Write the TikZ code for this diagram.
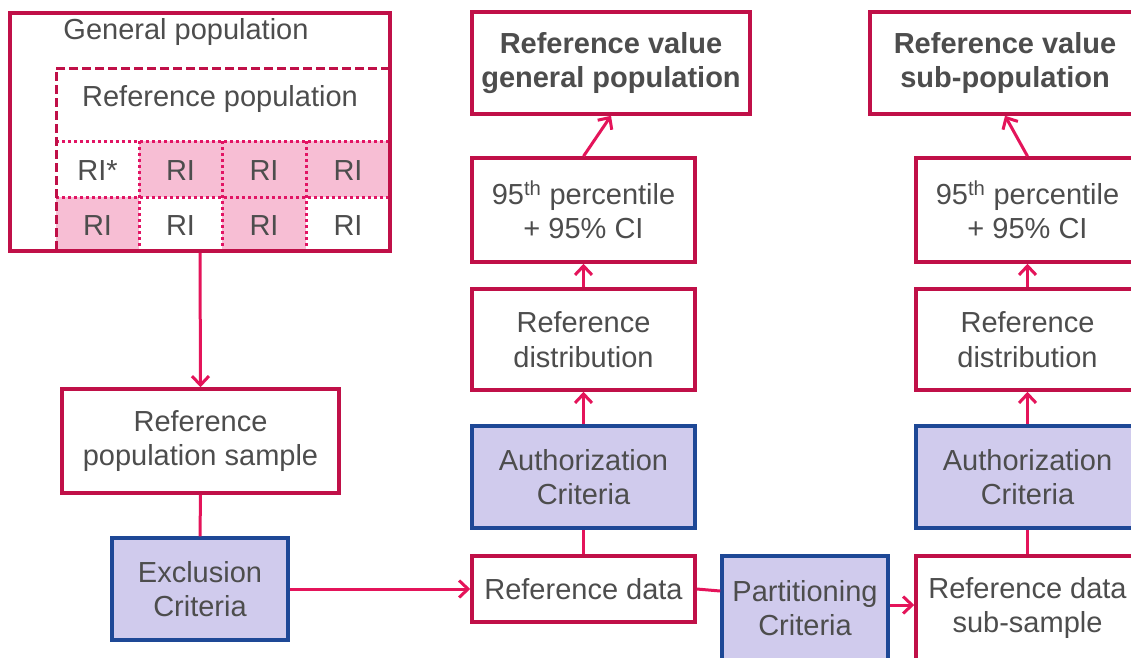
\documentclass[tikz,border=0pt]{standalone}
\usepackage{fontspec}
\setmainfont{Liberation Sans}
\usetikzlibrary{arrows.meta,calc}
\definecolor{boxred}{RGB}{192,16,72}
\definecolor{arrowc}{RGB}{228,20,90}
\definecolor{lav}{RGB}{208,203,237}
\definecolor{bluebd}{RGB}{30,72,150}
\definecolor{pinkfill}{RGB}{247,190,212}
\definecolor{dotc}{RGB}{226,20,100}
\definecolor{txt}{RGB}{77,77,77}
\tikzset{
  lbl/.style={text=txt,font=\fontsize{29}{34.5}\selectfont,align=center,inner sep=0pt},
  redbox/.style={draw=boxred,line width=3.5pt,fill=white,lbl},
  critbox/.style={draw=bluebd,line width=3.5pt,fill=lav,lbl},
  conn/.style={draw=arrowc,line width=3pt},
  arr/.style={conn,-{Straight Barb[length=9pt,width=17pt,line width=3pt]}},
  dotline/.style={draw=dotc,line width=3pt,dash pattern=on 3pt off 3pt},
  dashline/.style={draw=boxred,line width=3pt,dash pattern=on 9pt off 4pt}
}
\begin{document}
\begin{tikzpicture}[x=1pt,y=-1pt]
\clip (0,0) rectangle (1131,657);
\fill[white] (0,0) rectangle (1131,657);
% pink cells
\fill[pinkfill] (139,141) rectangle (390,197);
\fill[pinkfill] (56,197) rectangle (139,251);
\fill[pinkfill] (222,197) rectangle (306,251);
% dotted grid
\draw[dotline] (56,141) -- (390,141);
\draw[dotline] (56,197) -- (390,197);
\draw[dotline] (139,141) -- (139,251);
\draw[dotline] (222,141) -- (222,251);
\draw[dotline] (306,141) -- (306,251);
% dashed reference population box
\draw[dashline] (390,68) -- (56,68) -- (56,251);
% general population box
\node[draw=boxred,line width=3.5pt,minimum width=380pt,minimum height=238pt,inner sep=0pt] (gp) at (200,132) {};
\node[lbl] (gpl) at (186,32) {General population};
\node[lbl] (rpl) at (220,99) {Reference population};
\node[lbl] (c11) at (97.5,171) {RI*};
\node[lbl] (c12) at (180.5,171) {RI};
\node[lbl] (c13) at (264,171) {RI};
\node[lbl] (c14) at (348,171) {RI};
\node[lbl] (c21) at (97.5,226) {RI};
\node[lbl] (c22) at (180.5,226) {RI};
\node[lbl] (c23) at (264,226) {RI};
\node[lbl] (c24) at (348,226) {RI};
% left column
\node[redbox,minimum width=277pt,minimum height=104pt] (rps) at (200.5,441) {Reference\\population sample};
\node[critbox,minimum width=176pt,minimum height=102pt] (exc) at (200,589) {Exclusion\\Criteria};
% middle column
\node[redbox,minimum width=223pt,minimum height=66pt] (rd) at (583.5,589) {Reference data};
\node[critbox,minimum width=223pt,minimum height=102pt] (auth1) at (583.5,477) {Authorization\\Criteria};
\node[redbox,minimum width=223pt,minimum height=101pt] (dist1) at (583.5,339.5) {Reference\\distribution};
\node[redbox,minimum width=223pt,minimum height=104pt] (perc1) at (583.5,210) {95\textsuperscript{th} percentile\\+ 95\% CI};
\node[redbox,minimum width=278pt,minimum height=102pt,font=\fontsize{29}{34.5}\selectfont\bfseries] (val1) at (611,63) {Reference value\\general population};
% partitioning
\node[critbox,minimum width=166pt,minimum height=104pt] (part) at (805,608) {Partitioning\\Criteria};
% right column
\node[redbox,minimum width=223pt,minimum height=104pt] (rds) at (1027.5,608) {Reference data\\sub-sample};
\node[critbox,minimum width=223pt,minimum height=102pt] (auth2) at (1027.5,477) {Authorization\\Criteria};
\node[redbox,minimum width=223pt,minimum height=101pt] (dist2) at (1027.5,339.5) {Reference\\distribution};
\node[redbox,minimum width=223pt,minimum height=104pt] (perc2) at (1027.5,210) {95\textsuperscript{th} percentile\\+ 95\% CI};
\node[redbox,minimum width=270pt,minimum height=102pt,font=\fontsize{29}{34.5}\selectfont\bfseries] (val2) at (1005,63) {Reference value\\sub-population};
% connectors
\draw[arr] (gp.south) -- (rps.north);
\draw[conn] (rps.south) -- (exc.north);
\draw[arr] (exc.east) -- (rd.west);
\draw[conn] (rd.north) -- (auth1.south);
\draw[arr] (auth1.north) -- (dist1.south);
\draw[arr] (dist1.north) -- (perc1.south);
\draw[arr] (perc1.north) -- (val1.south);
\draw[conn] (rd.east) -- ([yshift=17pt]part.west);
\draw[arr] ([yshift=3pt]part.east) -- ([yshift=3pt]rds.west);
\draw[conn] (rds.north) -- (auth2.south);
\draw[arr] (auth2.north) -- (dist2.south);
\draw[arr] (dist2.north) -- (perc2.south);
\draw[arr] (perc2.north) -- (val2.south);
\end{tikzpicture}
\end{document}
